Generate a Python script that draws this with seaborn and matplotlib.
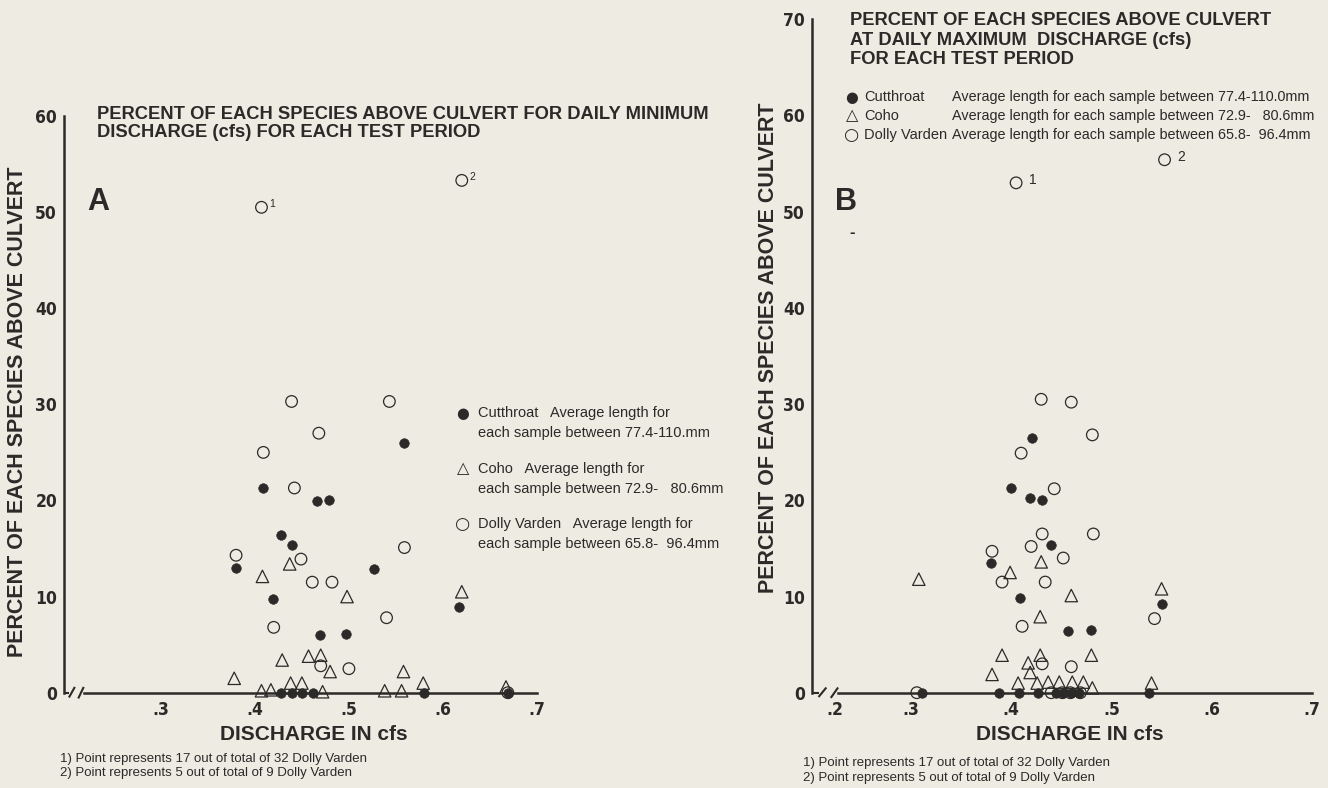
import matplotlib
matplotlib.use("Agg")
import matplotlib.pyplot as plt
import seaborn as sns
import pandas as pd

# Panel A - daily minimum discharge (cfs) vs percent above culvert
a_cut_q = [0.380, 0.409, 0.419, 0.428, 0.439, 0.466, 0.479, 0.469, 0.497, 0.527,
           0.559, 0.617, 0.428, 0.439, 0.450, 0.462, 0.580, 0.669]
a_cut_p = [13.0, 21.3, 9.8, 16.4, 15.4, 19.9, 20.0, 6.0, 6.1, 12.9,
           26.0, 8.9, 0, 0, 0, 0, 0, 0]

a_coho_q = [0.378, 0.408, 0.437, 0.498, 0.620, 0.429, 0.457, 0.470, 0.480, 0.558,
            0.438, 0.450, 0.579, 0.407, 0.417, 0.472, 0.538, 0.556, 0.667]
a_coho_p = [1.5, 12.1, 13.4, 10.0, 10.5, 3.4, 3.8, 3.9, 2.2, 2.2,
            1.0, 1.0, 1.0, 0.2, 0.3, 0.1, 0.2, 0.2, 0.6]

# first two Dolly Varden points carry footnotes 1) and 2)
a_dv_q = [0.407, 0.620, 0.380, 0.439, 0.543, 0.468, 0.409, 0.442, 0.559, 0.449,
          0.461, 0.482, 0.540, 0.420, 0.470, 0.500, 0.669]
a_dv_p = [50.5, 53.3, 14.3, 30.3, 30.3, 27.0, 25.0, 21.3, 15.1, 13.9,
          11.5, 11.5, 7.8, 6.8, 2.8, 2.5, 0.0]

# Panel B - daily maximum discharge
b_cut_q = [0.421, 0.400, 0.419, 0.431, 0.440, 0.380, 0.409, 0.550, 0.457, 0.480,
           0.311, 0.388, 0.408, 0.427, 0.445, 0.452, 0.460, 0.468, 0.537]
b_cut_p = [26.5, 21.3, 20.2, 20.0, 15.4, 13.5, 9.8, 9.2, 6.4, 6.5,
           0, 0, 0, 0, 0, 0, 0, 0, 0]

b_coho_q = [0.308, 0.399, 0.430, 0.550, 0.460, 0.429, 0.391, 0.429, 0.480, 0.417,
            0.419, 0.381, 0.407, 0.426, 0.437, 0.448, 0.461, 0.472, 0.481, 0.540]
b_coho_p = [11.8, 12.5, 13.6, 10.8, 10.1, 7.9, 3.9, 3.9, 3.9, 3.1,
            2.1, 1.9, 1.0, 1.0, 1.1, 1.1, 1.1, 1.1, 0.5, 1.0]

b_dv_q = [0.405, 0.553, 0.430, 0.460, 0.481, 0.410, 0.443, 0.431, 0.482, 0.420,
          0.452, 0.381, 0.391, 0.434, 0.411, 0.543, 0.431, 0.460, 0.306, 0.440,
          0.451, 0.459, 0.469]
b_dv_p = [53.0, 55.4, 30.5, 30.2, 26.8, 24.9, 21.2, 16.5, 16.5, 15.2,
          14.0, 14.7, 11.5, 11.5, 6.9, 7.7, 3.0, 2.7, 0, 0,
          0, 0, 0]

a_yticks = [0, 10, 20, 30, 40, 50, 60]
b_yticks = [0, 10, 20, 30, 40, 50, 60, 70]
xticks = [0.3, 0.4, 0.5, 0.6, 0.7]
xtick_labels = ['.3', '.4', '.5', '.6', '.7']

title_a = ("PERCENT OF EACH SPECIES ABOVE CULVERT FOR DAILY MINIMUM\n"
           "DISCHARGE (cfs) FOR EACH TEST PERIOD")
title_b = ("PERCENT OF EACH SPECIES ABOVE CULVERT\n"
           "AT DAILY MAXIMUM  DISCHARGE (cfs)\n"
           "FOR EACH TEST PERIOD")
ylab = "PERCENT OF EACH SPECIES ABOVE CULVERT"
xlab = "DISCHARGE IN cfs"
notes = ["1) Point represents 17 out of total of 32 Dolly Varden",
         "2) Point represents 5 out of total of 9 Dolly Varden"]

INK = '#2c2a29'
PAPER = '#eeebe2'
W, H = 1328, 788

sns.set_theme(style='white')
plt.rcParams['font.family'] = ['Liberation Sans', 'DejaVu Sans']
plt.rcParams['text.color'] = INK

fig = plt.figure(figsize=(W / 100, H / 100), dpi=100, facecolor=PAPER)


def fx(px):
    return px / W


def fy(py):
    return 1 - py / H


def cond(t):
    # condensed bold digits like the typeset ticks
    t.set_family(['DejaVu Sans'])
    t.set_fontstretch('condensed')
    t.set_fontweight('bold')


def panel(left, right, top, bottom, xmin, ymax, yticks, cut, coho, dv):
    ax = fig.add_axes([fx(left), fy(bottom), fx(right - left), (bottom - top) / H])
    ax.set_facecolor('none')
    sns.scatterplot(data=cut, x='q', y='p', marker='o', s=48, color=INK,
                    edgecolor=INK, linewidth=0.4, clip_on=False, zorder=4, ax=ax)
    sns.scatterplot(data=coho, x='q', y='p', marker='^', s=80, facecolor='none',
                    edgecolor=INK, linewidth=0.9, clip_on=False, zorder=4, ax=ax)
    sns.scatterplot(data=dv, x='q', y='p', marker='o', s=70, facecolor='none',
                    edgecolor=INK, linewidth=0.9, clip_on=False, zorder=4, ax=ax)
    ax.set_xlim(xmin, 0.70)
    ax.set_ylim(0, ymax)
    sns.despine(ax=ax)
    for side in ['left', 'bottom']:
        ax.spines[side].set_linewidth(1.8)
        ax.spines[side].set_color(INK)
    ax.spines['left'].set_bounds(0, ymax)
    ax.set_xticks(xticks)
    ax.set_xticklabels(xtick_labels)
    ax.set_yticks(yticks)
    ax.set_yticklabels([str(t) for t in yticks])
    ax.tick_params(axis='x', direction='in', length=8, width=1.6, color=INK,
                   pad=6, labelsize=12.5, labelcolor=INK)
    ax.tick_params(axis='y', direction='in', length=6, width=1.8, color=INK,
                   pad=5, labelsize=12.5, labelcolor=INK)
    for lab in ax.get_xticklabels() + ax.get_yticklabels():
        cond(lab)
    ax.set_xlabel('')
    ax.set_ylabel('')
    ax.grid(False)
    return ax


cut_a = pd.DataFrame({'q': a_cut_q, 'p': a_cut_p})
coho_a = pd.DataFrame({'q': a_coho_q, 'p': a_coho_p})
dv_a = pd.DataFrame({'q': a_dv_q, 'p': a_dv_p})
cut_b = pd.DataFrame({'q': b_cut_q, 'p': b_cut_p})
coho_b = pd.DataFrame({'q': b_coho_q, 'p': b_coho_p})
dv_b = pd.DataFrame({'q': b_dv_q, 'p': b_dv_p})

ax_a = panel(64, 537, 116, 692.7, 0.197, 60, a_yticks, cut_a, coho_a, dv_a)
ax_b = panel(812, 1312, 19.3, 692.7, 0.2015, 70, b_yticks, cut_b, coho_b, dv_b)

# broken x axis near the origin
for ax, x0, h, gap in [(ax_a, 0.197, 0.5, 0.021), (ax_b, 0.2015, 0.45, 0.026)]:
    ax.spines['bottom'].set_bounds(x0 + gap, 0.70)
    kw = dict(color=INK, lw=1.5, clip_on=False, zorder=3, solid_capstyle='butt')
    ax.plot([x0, x0 + gap * 0.25], [0, 0], **kw)
    ax.plot([x0 + gap * 0.25, x0 + gap * 0.55], [-h, h * 1.2], **kw)
    ax.plot([x0 + gap * 0.72, x0 + gap * 1.0], [-h * 1.2, h * 1.2], **kw)

lab2 = ax_b.annotate('.2', xy=(0.224, 0), xytext=(0, -6), textcoords='offset points',
                     ha='center', va='top', fontsize=12.5)
cond(lab2)

# footnote markers on the two Dolly Varden points
for i, n in enumerate(['1', '2']):
    ax_a.annotate(n, xy=(a_dv_q[i], a_dv_p[i]), xytext=(5.5, 2.5),
                  textcoords='offset points', ha='left', va='center', fontsize=7.5)
    ax_b.annotate(n, xy=(b_dv_q[i], b_dv_p[i]), xytext=(9, 2),
                  textcoords='offset points', ha='left', va='center', fontsize=10)

# titles and panel letters
fig.text(fx(97), fy(106), title_a, ha='left', va='top', fontsize=13.2,
         fontweight='bold', linespacing=1.05)
fig.text(fx(850), fy(12), title_b, ha='left', va='top', fontsize=13.2,
         fontweight='bold', linespacing=1.2)
fig.text(fx(98), fy(202), 'A', ha='center', va='center', fontsize=22, fontweight='bold')
fig.text(fx(846), fy(202), 'B', ha='center', va='center', fontsize=22, fontweight='bold')
fig.text(fx(852), fy(232), '-', ha='center', va='center', fontsize=12, fontweight='bold')

# axis labels
fig.text(fx(18), fy(412), ylab, rotation=90, ha='center', va='center',
         fontsize=15.5, fontweight='bold')
fig.text(fx(768), fy(348), ylab, rotation=90, ha='center', va='center',
         fontsize=15.5, fontweight='bold')
fig.text(fx(314), fy(735), xlab, ha='center', va='center', fontsize=15, fontweight='bold')
fig.text(fx(1070), fy(735), xlab, ha='center', va='center', fontsize=15, fontweight='bold')

# legend of panel A (two lines per species)
sym = {'Cutthroat': '\u25cf', 'Coho': '\u25b3', 'Dolly Varden': '\u25cb'}
sym_size = {'Cutthroat': 10.5, 'Coho': 11.5, 'Dolly Varden': 12.5}
leg_a = [('Cutthroat', '   Average length for', 'each sample between 77.4-110.mm', 413),
         ('Coho', '   Average length for', 'each sample between 72.9-   80.6mm', 469),
         ('Dolly Varden', '   Average length for', 'each sample between 65.8-  96.4mm', 524)]
for name, first, second, y in leg_a:
    fig.text(fx(463), fy(y), sym[name], ha='center', va='center',
             fontsize=sym_size[name], family=['DejaVu Sans'])
    fig.text(fx(478), fy(y), name + first, ha='left', va='center', fontsize=10.5)
    fig.text(fx(478), fy(y + 20), second, ha='left', va='center', fontsize=10.5)

# legend of panel B (one line per species)
leg_b = [('Cutthroat', 'Average length for each sample between 77.4-110.0mm', 97),
         ('Coho', 'Average length for each sample between 72.9-   80.6mm', 116),
         ('Dolly Varden', 'Average length for each sample between 65.8-  96.4mm', 135)]
for name, desc, y in leg_b:
    fig.text(fx(852), fy(y), sym[name], ha='center', va='center',
             fontsize=sym_size[name], family=['DejaVu Sans'])
    fig.text(fx(864), fy(y), name, ha='left', va='center', fontsize=10.5)
    fig.text(fx(952), fy(y), desc, ha='left', va='center', fontsize=10.4)

# footnotes
for x0, y0, dy in [(60, 759, 14), (803, 763, 15)]:
    for k, line in enumerate(notes):
        fig.text(fx(x0), fy(y0 + k * dy), line, ha='left', va='center', fontsize=9.5)

fig.savefig('out.png', dpi=100, facecolor=PAPER)
